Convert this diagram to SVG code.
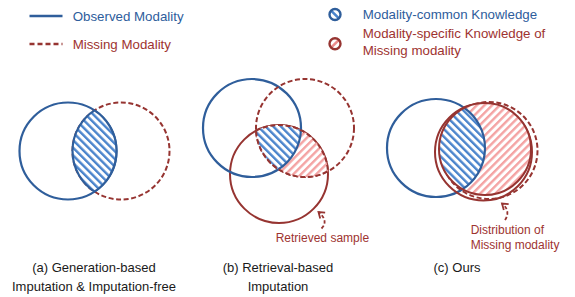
<svg xmlns="http://www.w3.org/2000/svg" width="575" height="297" viewBox="0 0 575 297">
<style>
.blue{fill:none;stroke:#2F5E9B;stroke-width:2.2}
.red{fill:none;stroke:#963431;stroke-width:2}
.dash{stroke-dasharray:5 2.6}
.t{font-family:"Liberation Sans",Arial,sans-serif;font-size:13.3px}
.tb{fill:#2E5D9C}
.tr{fill:#9E3330}
.cap{fill:#1a1a1a;font-size:13px;text-anchor:middle}
.ann{font-size:12px;fill:#9E3330}
</style>
<defs>
<pattern id="hb" patternUnits="userSpaceOnUse" width="5.4" height="5.4" patternTransform="rotate(-45)">
<rect width="5.4" height="5.4" fill="#fff"/><rect width="2.4" height="5.4" fill="#4A84CC"/>
</pattern>
<pattern id="hp" patternUnits="userSpaceOnUse" width="5.4" height="5.4" patternTransform="rotate(45)">
<rect width="5.4" height="5.4" fill="#fff"/><rect width="2.4" height="5.4" fill="#F4A3A3"/>
</pattern>
<marker id="ah" markerUnits="userSpaceOnUse" markerWidth="12" markerHeight="12" viewBox="-7 -6 9 12" refX="0" refY="0" orient="auto">
<path d="M-5.5 -3.8 L0 0 L-5.5 3.8" fill="none" stroke="#963431" stroke-width="1.8"/>
</marker>
</defs>
<rect width="575" height="297" fill="#fff"/>

<g id="legend">
<line x1="29.5" y1="16" x2="62.5" y2="16" stroke="#2F5E9B" stroke-width="2.4"/>
<text class="t tb" x="72.7" y="20.7">Observed Modality</text>
<line x1="29.5" y1="44" x2="62.5" y2="44" stroke="#963431" stroke-width="2.4" stroke-dasharray="5 3"/>
<text class="t tr" x="72.7" y="49.3">Missing Modality</text>
<circle cx="335" cy="14.5" r="5.5" fill="#fff"/>
<line x1="331.6" y1="11.1" x2="338.4" y2="17.9" stroke="#4A84CC" stroke-width="2.6"/>
<circle cx="335" cy="14.5" r="5.5" fill="none" stroke="#2F5E9B" stroke-width="2.4"/>
<text class="t tb" x="362.7" y="19">Modality-common Knowledge</text>
<circle cx="335" cy="43.7" r="5.5" fill="#fff"/>
<line x1="331.6" y1="47.1" x2="338.4" y2="40.3" stroke="#EC8C8C" stroke-width="2.6"/>
<circle cx="335" cy="43.7" r="5.5" fill="none" stroke="#963431" stroke-width="2.4"/>
<text class="t tr" x="362.7" y="38.3">Modality-specific Knowledge of</text>
<text class="t tr" x="362.7" y="55.3">Missing modality</text>
</g>

<g id="panel-a">
<circle class="blue" cx="68" cy="151" r="48.5"/>
<circle class="red dash" cx="121" cy="151" r="48.5"/>
<path d="M94.5 110.38 A48.5 48.5 0 0 1 94.5 191.62 A48.5 48.5 0 0 1 94.5 110.38 Z" fill="url(#hb)" stroke="#2F5E9B" stroke-width="2.2"/>
<text class="t cap" x="94" y="272">(a) Generation-based</text>
<text class="t cap" x="94" y="290.5">Imputation &amp; Imputation-free</text>
</g>

<g id="panel-b">
<circle class="red" cx="279" cy="174" r="49"/>
<circle class="blue" cx="252" cy="128" r="49"/>
<circle class="red dash" cx="305" cy="128" r="49"/>
<path d="M256.07 130.70 A49 49 0 0 1 327.93 171.30 A49 49 0 0 1 256.07 130.70 Z" fill="url(#hp)"/>
<path d="M256.07 130.70 A49 49 0 0 1 300.95 130.19 A49 49 0 0 1 278.5 169.2 A49 49 0 0 1 256.07 130.70 Z" fill="url(#hb)"/>
<path class="blue" d="M300.95 130.19 A49 49 0 0 1 278.5 169.2"/>
<path class="red dash" d="M256.07 130.70 A49 49 0 0 1 327.93 171.30 A49 49 0 0 1 256.07 130.70 Z"/>
<text class="t ann" x="275.7" y="241.7">Retrieved sample</text>
<text class="t cap" x="278" y="272">(b) Retrieval-based</text>
<text class="t cap" x="278" y="290.5">Imputation</text>
</g>

<g id="panel-c">
<circle class="blue" cx="436" cy="148" r="49"/>
<circle class="red dash" cx="489" cy="150.5" r="48.5"/>
<circle class="red" cx="483.5" cy="152" r="48.5" stroke-width="1.4"/>
<circle cx="485" cy="149" r="46" fill="url(#hp)"/>
<path d="M464.23 107.95 A49 49 0 0 1 462.57 189.17 A46 46 0 0 1 464.23 107.95 Z" fill="url(#hb)"/>
<path class="blue" d="M464.23 107.95 A49 49 0 0 1 462.57 189.17"/>
<circle class="red" cx="485" cy="149" r="46" stroke-width="2.8"/>
<text class="t ann" x="470.7" y="234">Distribution of</text>
<text class="t ann" x="470.7" y="249">Missing modality</text>
<text class="t cap" x="457" y="272">(c) Ours</text>
</g>

<g id="connectors">
<path d="M321.5 228.5 Q329 221 318.5 212" fill="none" stroke="#963431" stroke-width="1.8" stroke-dasharray="3.5 2.2" marker-end="url(#ah)"/>
<path d="M505 220 Q511 211 502 203.5" fill="none" stroke="#963431" stroke-width="1.8" stroke-dasharray="3.5 2.2" marker-end="url(#ah)"/>
</g>
</svg>
